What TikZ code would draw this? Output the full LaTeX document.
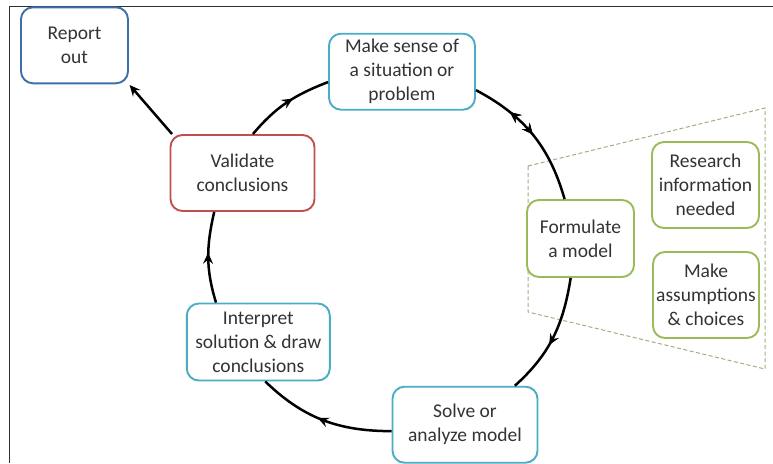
\documentclass[tikz,border=0pt]{standalone}
\usepackage{fontspec}
\setmainfont{Carlito}
\usetikzlibrary{arrows.meta,decorations.markings}
\definecolor{cteal}{HTML}{4BACC6}
\definecolor{cgreen}{HTML}{9BBB59}
\definecolor{cred}{HTML}{C0504D}
\definecolor{cblue}{HTML}{3F6FAA}
\definecolor{ctext}{HTML}{333333}
\definecolor{cdash}{HTML}{A3AD80}
\definecolor{cframe}{HTML}{303030}
\tikzset{
  myhead/.tip={Stealth[length=11pt,width=10pt,inset=4pt]},
  box/.style={draw, fill=white, line width=1.9pt, rounded corners=12pt,
    inner sep=0pt, align=center, text=ctext,
    font=\fontsize{19.5}{24}\selectfont},
  bigbox/.style={box, minimum width=144pt, minimum height=76pt},
  smallbox/.style={box, minimum width=107pt, minimum height=76pt},
  sidebox/.style={box, draw=cgreen, minimum width=107pt, minimum height=86pt},
  conn/.style={line width=2.5pt, black},
  midarrow/.style={postaction={decorate},
    decoration={markings, mark=at position #1 with {\arrow{myhead}}}},
  backarrow/.style={postaction={decorate},
    decoration={markings, mark=at position #1 with {\arrowreversed{myhead}}}},
}
\begin{document}
\begin{tikzpicture}[x=1pt,y=1pt]
\useasboundingbox (0,0) rectangle (773,-463);
% frame
\draw[cframe, line width=1.3pt] (9.5,-463) -- (9.5,-6.5) -- (773,-6.5);
% zoom trapezoid
\draw[cdash, line width=1pt, dash pattern=on 4pt off 2.5pt]
  (528,-166) -- (765,-108) -- (765,-369) -- (528,-312) -- cycle;
% nodes
\node[smallbox, draw=cblue] (rep) at (74.5,-45.3) {Report\\out};
\node[bigbox, draw=cteal, minimum width=146pt] (ms) at (402,-71.7) {Make sense of\\a situation or\\problem};
\node[bigbox, draw=cred] (val) at (242.5,-173) {Validate\\conclusions};
\node[smallbox, draw=cgreen, minimum height=77pt] (fm) at (580.5,-238.5) {Formulate\\a model};
\node[sidebox] (res) at (705.5,-185) {Research\\information\\needed};
\node[sidebox, minimum width=106pt] (mak) at (706,-295) {Make\\assumptions\\\& choices};
\node[bigbox, draw=cteal, minimum width=143pt, minimum height=77pt] (int) at (258.3,-342) {Interpret\\solution \& draw\\conclusions};
\node[bigbox, draw=cteal, minimum width=145pt] (sol) at (465,-424.7) {Solve or\\analyze model};
% connectors
\draw[conn, midarrow=0.58] (val.75) to[out=50, in=201] (ms.188);
\draw[conn, backarrow=0.28, midarrow=0.50] (ms.-14) to[out=-28, in=106] (fm.112);
\draw[conn, midarrow=0.57] (fm.256) to[out=-99, in=42] (sol.38);
\draw[conn, midarrow=0.54] (sol.185) to[out=180, in=-44] (int.280);
\draw[conn, midarrow=0.55] (int.137) to[out=107, in=257] (val.234);
\draw[conn, -{myhead}, shorten >=1pt] ([xshift=2.5pt]val.north west) -- (rep.south east);
\end{tikzpicture}
\end{document}
